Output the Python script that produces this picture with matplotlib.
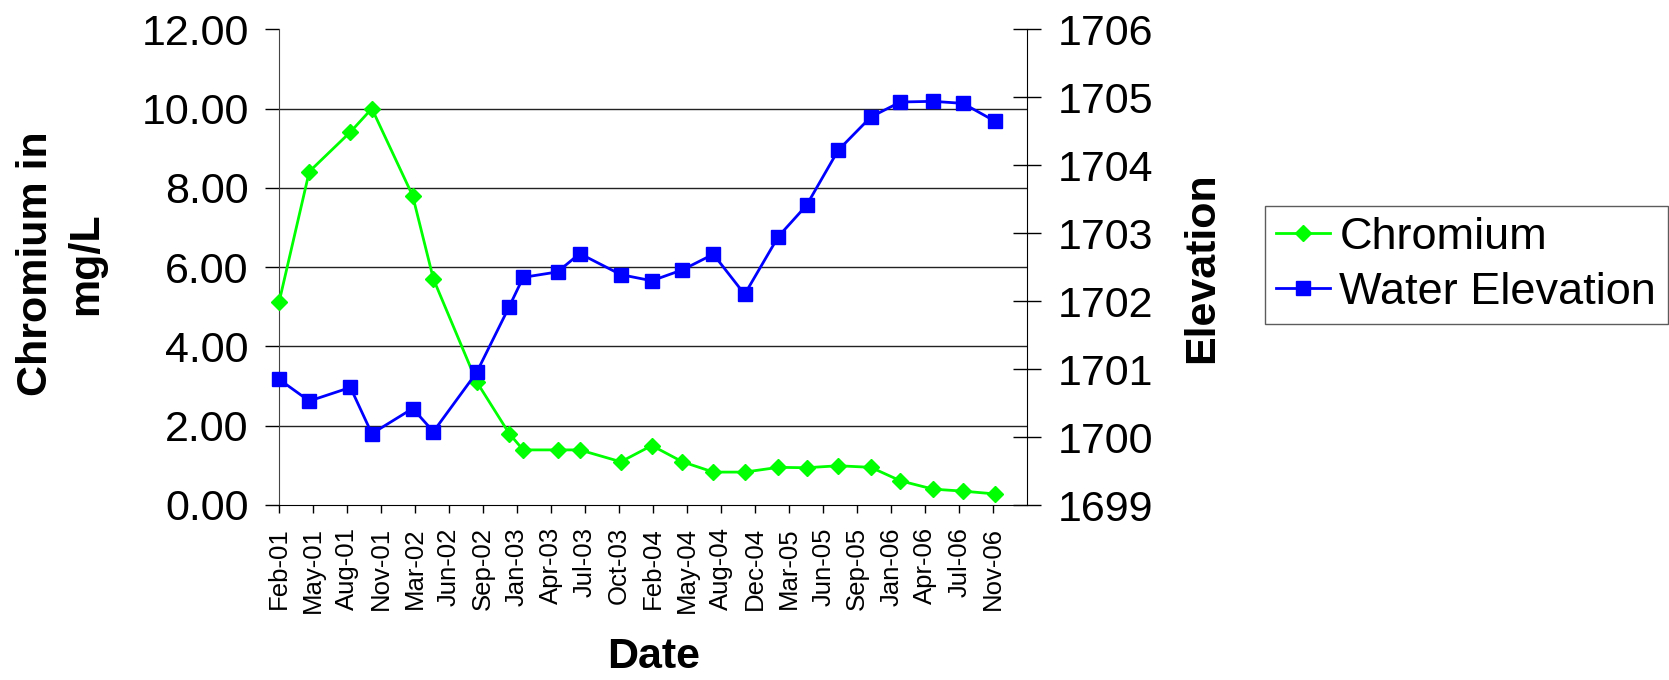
import matplotlib.pyplot as plt
import matplotlib.dates as mdates
import numpy as np

plt.rcParams['font.family'] = ['Liberation Sans', 'DejaVu Sans']

# sampling dates and readings
sample_dates = ['2001-02-01', '2001-05-01', '2001-08-30', '2001-11-01', '2002-03-01',
                '2002-05-01', '2002-09-05', '2002-12-10', '2003-01-20', '2003-05-01',
                '2003-07-05', '2003-11-03', '2004-02-02', '2004-05-02', '2004-08-01',
                '2004-11-01', '2005-02-08', '2005-05-02', '2005-08-03', '2005-11-07',
                '2006-02-02', '2006-05-09', '2006-08-05', '2006-11-06']
chromium = [5.11, 8.41, 9.41, 10.00, 7.80, 5.70, 3.11, 1.80, 1.39, 1.39,
            1.39, 1.09, 1.50, 1.09, 0.83, 0.83, 0.95, 0.94, 0.99, 0.95,
            0.61, 0.40, 0.35, 0.28]
elevation = [1700.85, 1700.53, 1700.73, 1700.05, 1700.42, 1700.08, 1700.95, 1701.92,
             1702.35, 1702.43, 1702.70, 1702.39, 1702.30, 1702.46, 1702.69, 1702.10,
             1702.95, 1703.41, 1704.22, 1704.71, 1704.93, 1704.94, 1704.91, 1704.65]

left_ticks = [0, 2, 4, 6, 8, 10, 12]
right_ticks = [1699, 1700, 1701, 1702, 1703, 1704, 1705, 1706]

# date axis: starts Feb-01, one tick every 100 days (like Excel)
axis_start = np.datetime64('2001-02-01')
tick_step = np.timedelta64(100, 'D')
n_ticks = 22

x = np.array(sample_dates, dtype='datetime64[D]')

W, H = 1669, 680
fig = plt.figure(figsize=(W / 100, H / 100), dpi=100)
ax = fig.add_axes([279 / W, 1 - 505 / H, (1027.3 - 279) / W, 475.7 / H])
ax2 = ax.twinx()

ax.plot(x, chromium, color='#00FF00', lw=2, marker='D', ms=7.8,
        label='Chromium', clip_on=False, zorder=3)
ax2.plot(x, elevation, color='#0000FF', lw=2, marker='s', ms=10.5,
         label='Water Elevation', clip_on=False, zorder=3)

ax.set_ylim(0, 12)
ax.set_yticks(left_ticks)
ax.set_yticklabels([f'{t:.2f}' for t in left_ticks])
for t in left_ticks[1:-1]:
    ax.axhline(t, color='#222222', lw=1, zorder=0)

ax2.set_ylim(1699, 1706)
ax2.set_yticks(right_ticks)

xt = axis_start + np.arange(n_ticks) * tick_step
ax.set_xlim(axis_start, axis_start + n_ticks * tick_step)
ax.set_xticks(xt)
ax.xaxis.set_major_formatter(mdates.DateFormatter('%b-%y'))

for s in ['top', 'right']:
    ax.spines[s].set_visible(False)
for s in ['top', 'left', 'bottom']:
    ax2.spines[s].set_visible(False)
ax.spines['left'].set_color('#444444')
ax.spines['bottom'].set_color('black')
ax2.spines['right'].set_color('black')

ax.tick_params(axis='y', direction='out', length=10.3, width=1, pad=11.5, labelsize=31)
ax.tick_params(axis='x', direction='out', length=6, width=1, pad=10, labelsize=18.5,
               labelrotation=90)
ax2.tick_params(axis='y', direction='inout', length=20, width=1, pad=12, labelsize=31)

# axis titles
fig.text(61 / W, 1 - 264 / H, 'Chromium in\nmg/L', rotation=90, ha='center', va='center',
         fontsize=31, fontweight='bold', linespacing=1.3, multialignment='center')
fig.text(1201.7 / W, 1 - 267.5 / H, 'Elevation', rotation=90, ha='center', va='center',
         fontsize=31, fontweight='bold')
fig.text(654 / W, 1 - 657 / H, 'Date', ha='center', va='center',
         fontsize=31, fontweight='bold')

h1, l1 = ax.get_legend_handles_labels()
h2, l2 = ax2.get_legend_handles_labels()
leg = fig.legend(h1 + h2, l1 + l2, loc='upper left',
                 bbox_to_anchor=(1265 / W, 1 - 206 / H), borderaxespad=0,
                 fontsize=32.5, frameon=True, fancybox=False, shadow=False,
                 numpoints=1, handlelength=1.2, handletextpad=0.2,
                 borderpad=0.25, labelspacing=0.3)
leg.get_frame().set_edgecolor('#333333')
leg.get_frame().set_linewidth(1)

fig.savefig('out.png', dpi=100)
